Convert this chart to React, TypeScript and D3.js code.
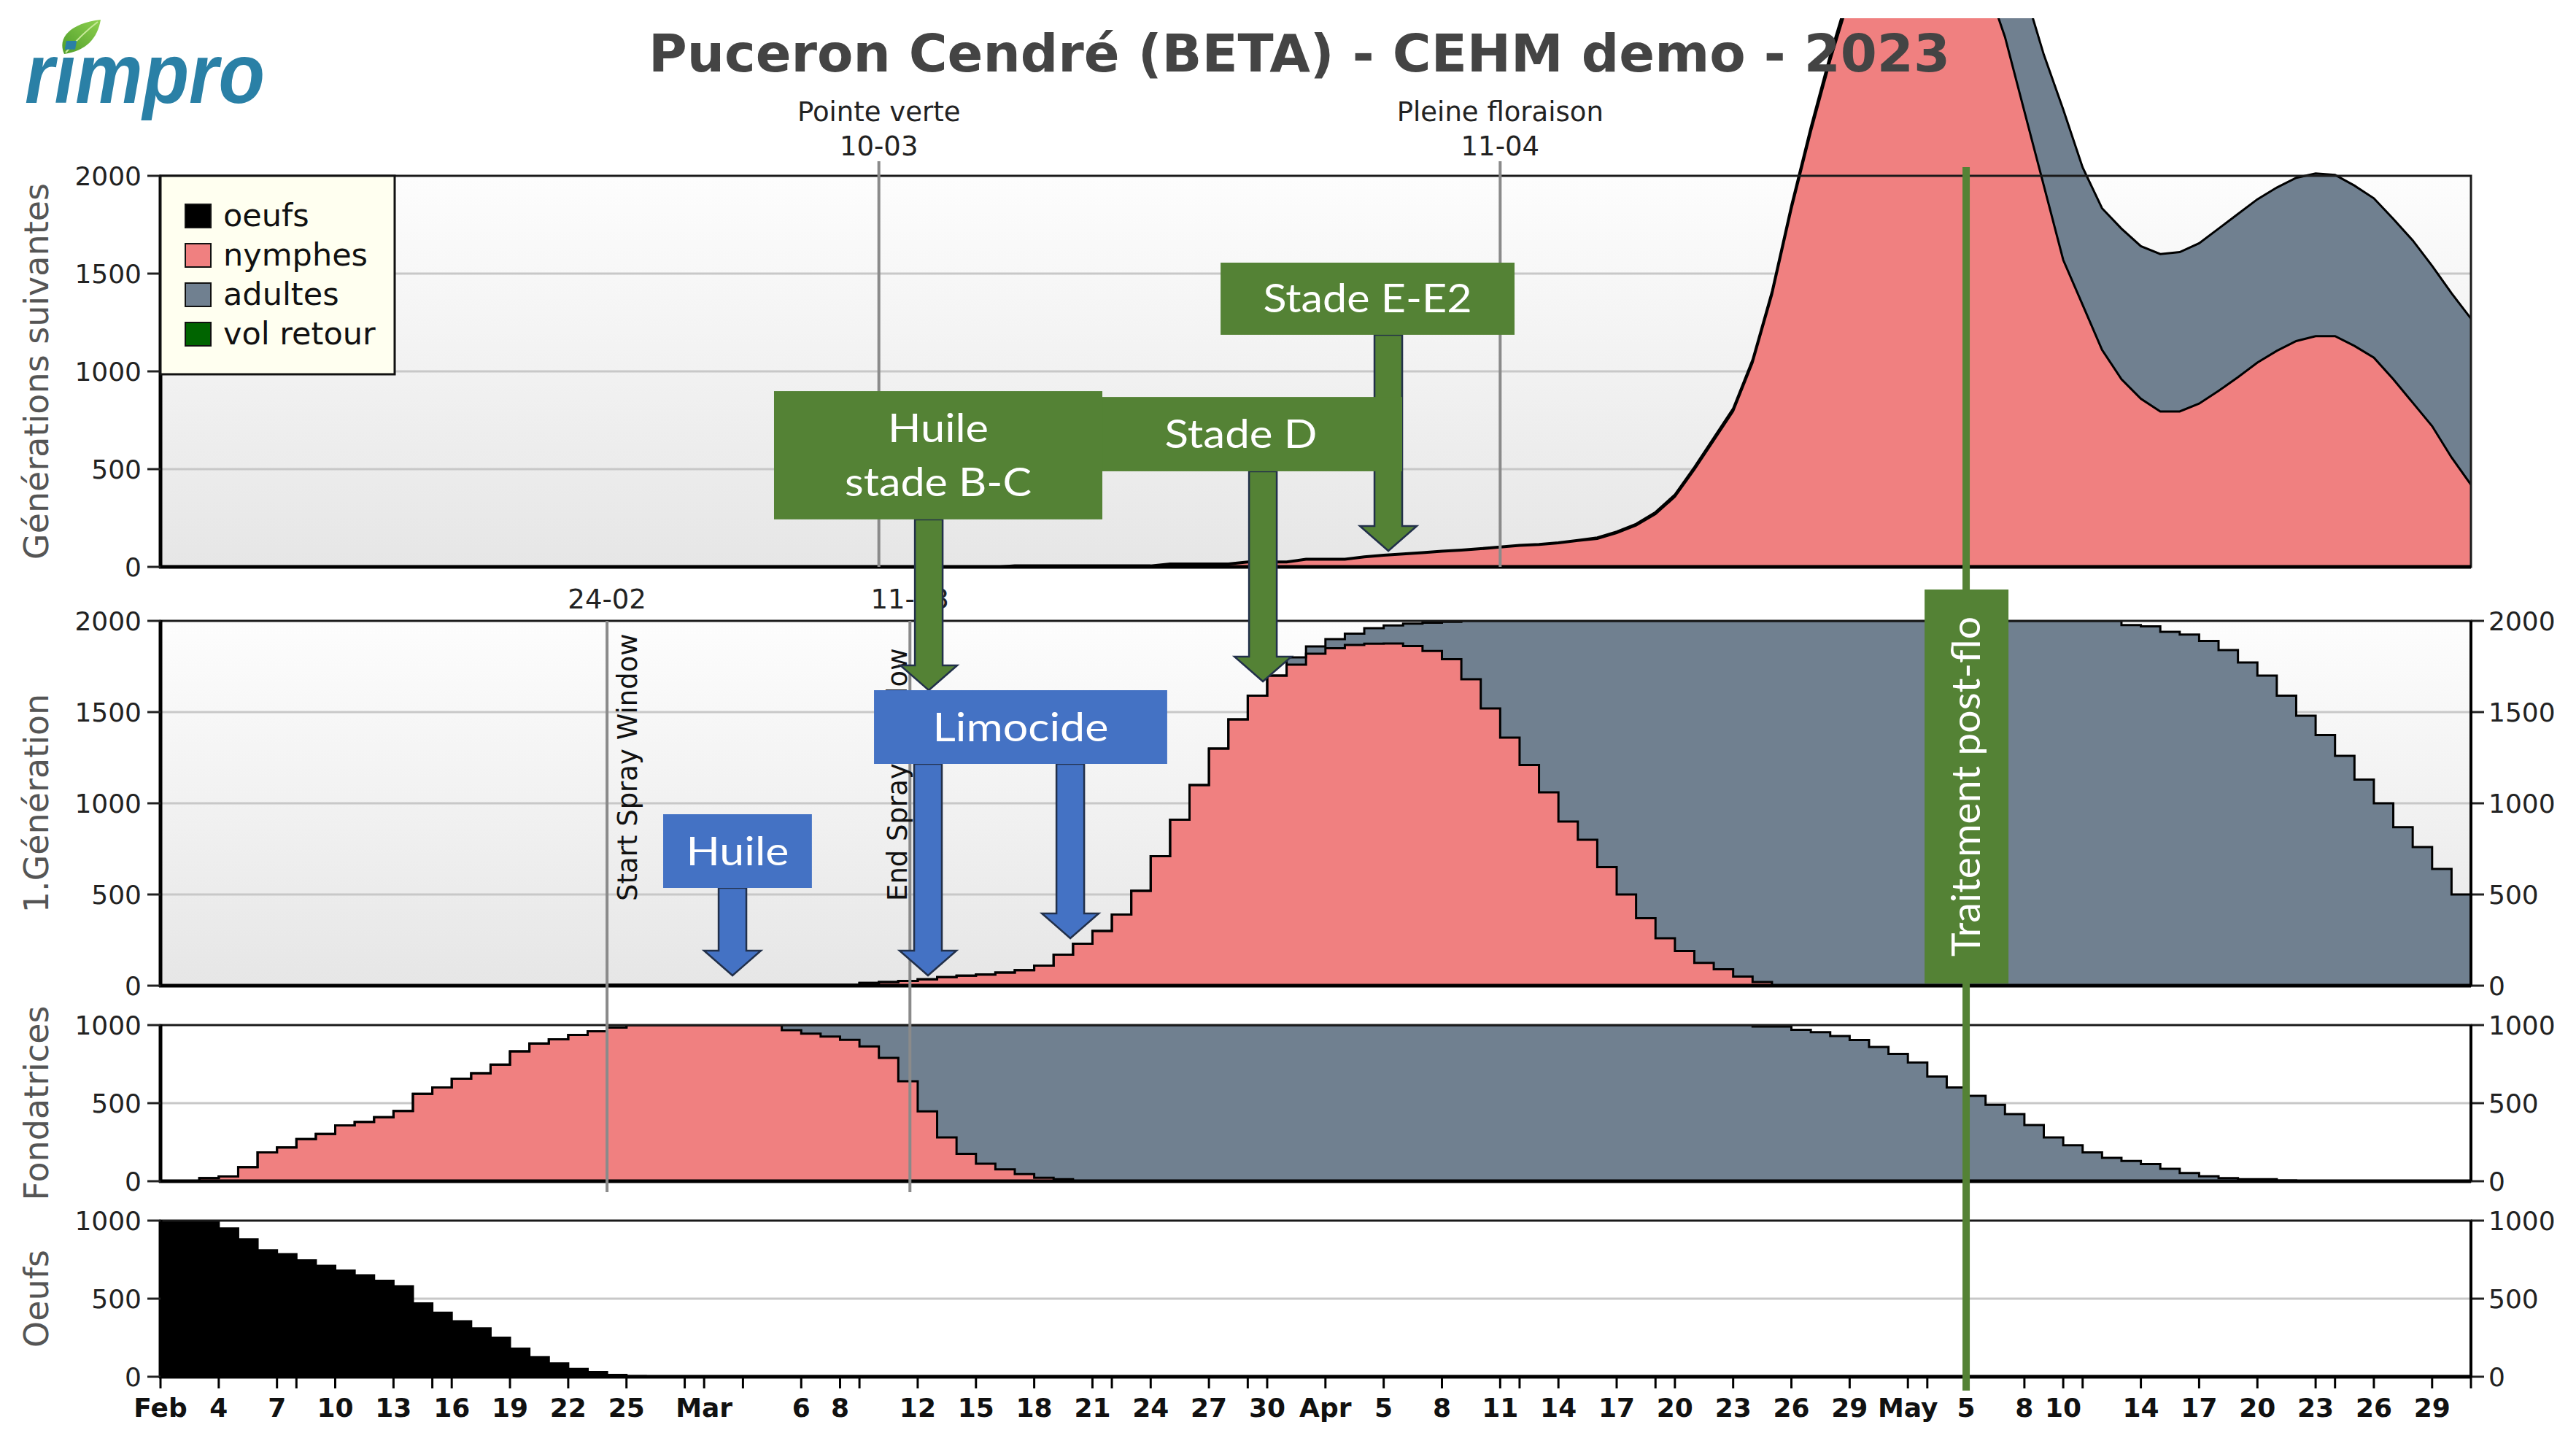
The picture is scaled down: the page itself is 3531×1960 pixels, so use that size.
import React from "react";
import * as d3 from "d3";

// ---------------- data ----------------
const domainStart = "2023-02-01";
const domainEnd = "2023-05-31";

// daily values; first value belongs to the given start date
const oeufsStart = "2023-02-01";
const oeufs = [1000, 1000, 995, 950, 880, 810, 785, 745, 710, 680, 650, 615, 580, 470, 410, 355, 310, 250, 180, 125, 85, 50, 30, 12, 4, 0];

const fondatricesNymphesStart = "2023-02-01";
const fondatricesNymphes = [0, 0, 20, 30, 90, 185, 216, 270, 303, 357, 380, 410, 450, 560, 600, 656, 692, 746, 832, 882, 909, 937, 960, 985,
  1000, 1000, 1000, 1000, 1000, 1000, 1000, 1000,
  967, 945, 926, 905, 863, 790, 640, 447, 280, 175, 112, 76, 45, 22, 13, 0];

const fondatricesAdultesStart = "2023-03-05";
const fondatricesAdultes = [33, 55, 74, 95, 137, 210, 360, 553, 720, 825, 888, 924, 955, 978, 987,
  1000, 1000, 1000, 1000, 1000, 1000, 1000, 1000, 1000, 1000, 1000, 1000, 1000, 1000, 1000, 1000, 1000, 1000,
  1000, 1000, 1000, 1000, 1000, 1000, 1000, 1000, 1000, 1000, 1000, 1000, 1000, 1000, 1000, 1000, 1000,
  991, 991, 970, 955, 930, 904, 860, 815, 760, 670, 600, 547, 490, 430, 360, 280, 230, 185, 150, 130, 110, 80, 52, 31, 20, 13, 13, 5, 0];

const gen1NymphesStart = "2023-02-24";
const gen1Nymphes = [5, 5, 5, 5, 5, 5, 5, 5, 5, 5, 5, 5, 5,
  15, 20, 26, 35, 47, 55, 61, 72, 85, 110, 170, 230, 300, 390, 520, 710, 910, 1100, 1300, 1460,
  1590, 1700, 1760, 1820, 1850, 1868, 1875, 1876, 1862, 1835, 1790, 1680, 1520, 1360, 1210, 1060, 900, 800, 650, 500,
  370, 260, 190, 125, 90, 50, 20, 0];

const gen1AdultesStart = "2023-03-31";
const gen1Adultes = [40, 40, 50, 62, 85, 99, 123, 155, 205, 320, 480, 640, 790, 940, 1100, 1200, 1350, 1500, 1630, 1740, 1810, 1875, 1910, 1950, 1980,
  2000, 2000, 2000, 2000, 2000, 2000, 2000, 2000, 2000, 2000, 2000, 2000, 2000, 2000, 2000, 2000, 2000, 2000,
  1977, 1970, 1940, 1925, 1890, 1840, 1772, 1700, 1590, 1480, 1374, 1260, 1130, 1000, 869, 760, 640, 500];

const suivantesNymphesStart = "2023-03-17";
const suivantesNymphes = [0, 0, 0, 0, 0, 0, 0, 0, 13, 13, 13, 13, 23, 23, 23, 37, 37, 37,
  49, 58, 64, 71, 78, 84, 91, 100, 108, 113, 121, 133, 144, 173, 212, 270, 359, 498, 647, 796,
  1045, 1392, 1830, 2225, 2590, 2915, 3205, 3390, 3470, 3450, 3350, 3200, 3000, 2710, 2330, 1950, 1570, 1340, 1110, 960,
  860, 795, 795, 835, 900, 970, 1045, 1105, 1155, 1180, 1180, 1130, 1070, 960, 840, 720, 560, 420];

const suivantesAdultesStart = "2023-03-17";
const suivantesAdultes = [7, 7, 7, 7, 7, 7, 7, 7,
  4, 4, 4, 4, 4, 4, 4, 4, 4, 4, 4, 4, 4, 4, 4, 4, 4, 4, 4, 4, 4, 4,
  6, 7, 8, 10, 11, 12, 13, 14, 15, 18, 20, 25, 30, 35, 45, 60, 80, 100, 150, 200,
  300, 390, 620, 670, 770, 703, 724, 770, 780, 805, 815, 820, 830, 835, 835, 835, 835, 832, 825, 820,
  815, 820, 830, 820, 840, 850];

// axis ticks
const yTicks2000 = [0, 500, 1000, 1500, 2000];
const yTicks1000 = [0, 500, 1000];
const xTickDates = ["2023-02-01", "2023-02-04", "2023-02-07", "2023-02-10", "2023-02-13", "2023-02-16", "2023-02-19", "2023-02-22", "2023-02-25",
  "2023-03-01", "2023-03-06", "2023-03-08", "2023-03-12", "2023-03-15", "2023-03-18", "2023-03-21", "2023-03-24", "2023-03-27", "2023-03-30",
  "2023-04-02", "2023-04-05", "2023-04-08", "2023-04-11", "2023-04-14", "2023-04-17", "2023-04-20", "2023-04-23", "2023-04-26", "2023-04-29",
  "2023-05-02", "2023-05-05", "2023-05-08", "2023-05-10", "2023-05-14", "2023-05-17", "2023-05-20", "2023-05-23", "2023-05-26", "2023-05-29"];
const xTickTexts = ["Feb", "4", "7", "10", "13", "16", "19", "22", "25",
  "Mar", "6", "8", "12", "15", "18", "21", "24", "27", "30",
  "Apr", "5", "8", "11", "14", "17", "20", "23", "26", "29",
  "May", "5", "8", "10", "14", "17", "20", "23", "26", "29"];
const xMinorTickDates = ["2023-02-08", "2023-02-15", "2023-02-28", "2023-03-03", "2023-03-09", "2023-03-22", "2023-03-29",
  "2023-04-12", "2023-04-19", "2023-05-03", "2023-05-11", "2023-05-24"];

// legend
const legendLabels = ["oeufs", "nymphes", "adultes", "vol retour"];
const legendColors = ["#000000", "#f08080", "#708090", "#006400"];

// phenology / spray window markers
const stageNames = ["Pointe verte", "Pleine floraison"];
const stageDates = ["2023-03-10", "2023-04-11"];
const stageDateTexts = ["10-03", "11-04"];
const sprayNames = ["Start Spray Window", "End Spray Window"];
const sprayDates = ["2023-02-24", "2023-03-11T14:24"];
const sprayDateTexts = ["24-02", "11-03"];

// ---------------- styles / layout ----------------
const W = 3531, H = 1960;
const PLOT_L = 220, PLOT_R = 3387;
const PINK = "#f08080", SLATE = "#708090";
const GREEN = "#548235", BLUE = "#4472c4", ARROW_EDGE = "#22304a";
const CHART_FONT = "'DejaVu Sans', Verdana, sans-serif";
const CALLOUT_FONT = "Lato, 'Open Sans', sans-serif";

const panels = [
  { top: 241, bottom: 777, max: 2000, ticks: yTicks2000, title: "Générations suivantes", rightAxis: false, shaded: true, clipTop: 25 },
  { top: 851, bottom: 1351, max: 2000, ticks: yTicks2000, title: "1.Génération", rightAxis: true, shaded: true, clipTop: 851 },
  { top: 1405, bottom: 1619, max: 1000, ticks: yTicks1000, title: "Fondatrices", rightAxis: true, shaded: false, clipTop: 1405 },
  { top: 1673, bottom: 1887, max: 1000, ticks: yTicks1000, title: "Oeufs", rightAxis: true, shaded: false, clipTop: 1673 },
];

const panelSeries = [
  { layers: [[suivantesNymphesStart, suivantesNymphes], [suivantesAdultesStart, suivantesAdultes]] as [string, number[]][], colors: [PINK, SLATE], linear: true },
  { layers: [[gen1NymphesStart, gen1Nymphes], [gen1AdultesStart, gen1Adultes]] as [string, number[]][], colors: [PINK, SLATE], linear: false },
  { layers: [[fondatricesNymphesStart, fondatricesNymphes], [fondatricesAdultesStart, fondatricesAdultes]] as [string, number[]][], colors: [PINK, SLATE], linear: false },
  { layers: [[oeufsStart, oeufs]] as [string, number[]][], colors: ["#000000"], linear: false },
];

// callouts drawn over the chart (x in days from domain start, y in panel units)
const calloutBoxes = [
  { lines: ["Stade E-E2"], widths: [286], color: GREEN, panel: 0, d0: 54.6, d1: 69.74, vTop: 1556, vBot: 1187 },
  { lines: ["Stade D"], widths: [209], color: GREEN, panel: 0, d0: 47.35, d1: 63.95, vTop: 869, vBot: 489 },
  { lines: ["Huile", "stade B-C"], widths: [138, 256], color: GREEN, panel: 0, d0: 31.6, d1: 48.51, vTop: 899, vBot: 243 },
  { lines: ["Limocide"], widths: [241], color: BLUE, panel: 1, d0: 36.75, d1: 51.85, vTop: 1620, vBot: 1216 },
  { lines: ["Huile"], widths: [141], color: BLUE, panel: 1, d0: 25.89, d1: 33.55, vTop: 940, vBot: 536 },
];
const calloutArrows = [
  { day: 63.24, color: GREEN, fromPanel: 0, fromV: 1187, toPanel: 0, toV: 82 },
  { day: 56.78, color: GREEN, fromPanel: 0, fromV: 489, toPanel: 1, toV: 1668 },
  { day: 39.57, color: GREEN, fromPanel: 0, fromV: 243, toPanel: 1, toV: 1620 },
  { day: 39.53, color: BLUE, fromPanel: 1, fromV: 1216, toPanel: 1, toV: 56 },
  { day: 46.86, color: BLUE, fromPanel: 1, fromV: 1216, toPanel: 1, toV: 260 },
  { day: 29.46, color: BLUE, fromPanel: 1, fromV: 536, toPanel: 1, toV: 56 },
];
const treatment = { text: "Traitement post-flo", date: "2023-05-05", d0: 90.86, d1: 95.18, vTop: 2172, vBot: 12, textLen: 466 };

const toDate = (s: string) => new Date(s.length > 10 ? s + ":00Z" : s + "T00:00:00Z");

function arrowPath(cx: number, y0: number, tip: number, sw = 38, hw = 78, hh = 34) {
  const s = sw / 2, h = hw / 2, yb = tip - hh;
  return `M${cx - s},${y0}L${cx + s},${y0}L${cx + s},${yb}L${cx + h},${yb}L${cx},${tip}L${cx - h},${yb}L${cx - s},${yb}Z`;
}

export default function App() {
  const t0 = toDate(domainStart), t1 = toDate(domainEnd);
  const x = d3.scaleUtc().domain([t0, t1]).range([PLOT_L, PLOT_R]);
  const nDays = d3.utcDay.count(t0, t1);
  const dayDate = (i: number) => d3.utcDay.offset(t0, i);
  const fracX = (d: number) => x(new Date(+t0 + d * 864e5));
  const ys = panels.map((p) => d3.scaleLinear().domain([0, p.max]).range([p.bottom, p.top]));

  const valueAt = (start: string, values: number[], i: number) => {
    const k = i - d3.utcDay.count(t0, toDate(start));
    return k >= 0 && k < values.length ? values[k] : 0;
  };

  const rendered = panelSeries.map((ser, pi) => {
    const keys = ser.layers.map((_, j) => "k" + j);
    const rows: any[] = [];
    const last = ser.linear ? nDays : nDays - 1;
    for (let i = 0; i <= last; i++) {
      const r: any = { date: dayDate(i) };
      ser.layers.forEach(([st, vals], j) => (r["k" + j] = valueAt(st, vals, i)));
      rows.push(r);
    }
    if (!ser.linear) rows.push({ ...rows[rows.length - 1], date: dayDate(nDays) });
    const stacked = d3.stack<any>().keys(keys)(rows);
    const curve = ser.linear ? d3.curveLinear : d3.curveStepAfter;
    const y = ys[pi];
    const area = d3.area<any>().x((d) => x(d.data.date)).y0((d) => y(d[0])).y1((d) => y(d[1])).curve(curve);
    const line = d3.line<any>().x((d) => x(d.data.date)).y((d) => y(d[1])).curve(curve);
    return { stacked, area, line, colors: ser.colors };
  });

  const tickFont = { fontFamily: CHART_FONT, fontSize: 36, fill: "#222" };

  return (
    <svg width={W} height={H} viewBox={`0 0 ${W} ${H}`} style={{ position: "absolute", left: 0, top: 0, display: "block", background: "#fff" }}>
      <defs>
        <linearGradient id="panelShade" x1="0" y1="0" x2="0" y2="1">
          <stop offset="0" stopColor="#fdfdfd" />
          <stop offset="1" stopColor="#e6e6e6" />
        </linearGradient>
        <linearGradient id="leafGrad" x1="0" y1="1" x2="1" y2="0">
          <stop offset="0" stopColor="#4f9d2a" />
          <stop offset="1" stopColor="#8fd14f" />
        </linearGradient>
        {panels.map((p, i) => (
          <clipPath id={`clip${i}`} key={i}>
            <rect x={PLOT_L} y={p.clipTop} width={PLOT_R - PLOT_L} height={p.bottom - p.clipTop} />
          </clipPath>
        ))}
      </defs>

      {/* panel backgrounds and grid */}
      {panels.map((p, i) => (
        <g key={"bg" + i}>
          <rect x={PLOT_L} y={p.top} width={PLOT_R - PLOT_L} height={p.bottom - p.top} fill={p.shaded ? "url(#panelShade)" : "#fff"} />
          {p.ticks.filter((t) => t > 0 && t < p.max).map((t) => (
            <line key={t} x1={PLOT_L} x2={PLOT_R} y1={ys[i](t)} y2={ys[i](t)} stroke="#c8c8c8" strokeWidth={3} />
          ))}
        </g>
      ))}

      {/* stacked areas */}
      {rendered.map((r, pi) => (
        <g key={"ser" + pi} clipPath={`url(#clip${pi})`}>
          {r.stacked.map((layer, j) => (
            <path key={"a" + j} d={r.area(layer) || ""} fill={r.colors[j]} />
          ))}
          {r.stacked.map((layer, j) => (
            <path key={"l" + j} d={r.line(layer) || ""} fill="none" stroke="#000" strokeWidth={3} strokeLinejoin="miter" />
          ))}
        </g>
      ))}

      {/* frames, axes */}
      {panels.map((p, i) => (
        <g key={"ax" + i}>
          <rect x={PLOT_L} y={p.top} width={PLOT_R - PLOT_L} height={p.bottom - p.top} fill="none" stroke="#1a1a1a" strokeWidth={3} />
          <line x1={PLOT_L} x2={PLOT_L} y1={p.top - 1} y2={p.bottom + 2} stroke="#000" strokeWidth={5} />
          <line x1={PLOT_L - 2} x2={PLOT_R} y1={p.bottom} y2={p.bottom} stroke="#000" strokeWidth={5} />
          {p.ticks.map((t) => (
            <g key={t}>
              <line x1={PLOT_L - 18} x2={PLOT_L} y1={ys[i](t)} y2={ys[i](t)} stroke="#222" strokeWidth={3} />
              <text x={PLOT_L - 26} y={ys[i](t)} dy="0.36em" textAnchor="end" {...tickFont}>{t}</text>
              {p.rightAxis && (
                <>
                  <line x1={PLOT_R} x2={PLOT_R + 18} y1={ys[i](t)} y2={ys[i](t)} stroke="#222" strokeWidth={3} />
                  <text x={PLOT_R + 24} y={ys[i](t)} dy="0.36em" textAnchor="start" {...tickFont}>{t}</text>
                </>
              )}
            </g>
          ))}
          {p.rightAxis && <line x1={PLOT_R} x2={PLOT_R} y1={p.top} y2={p.bottom} stroke="#000" strokeWidth={4} />}
          <text transform={`translate(66,${(p.top + p.bottom) / 2}) rotate(-90)`} textAnchor="middle" fontFamily={CHART_FONT} fontSize={46} fill="#555">
            {p.title}
          </text>
        </g>
      ))}

      {/* x axis */}
      <g>
        {xMinorTickDates.map((d) => (
          <line key={"m" + d} x1={x(toDate(d))} x2={x(toDate(d))} y1={panels[3].bottom} y2={panels[3].bottom + 16} stroke="#000" strokeWidth={3} />
        ))}
        {xTickDates.map((d, i) => (
          <g key={"t" + d}>
            <line x1={x(toDate(d))} x2={x(toDate(d))} y1={panels[3].bottom} y2={panels[3].bottom + 16} stroke="#000" strokeWidth={3} />
            <text x={x(toDate(d))} y={1942} textAnchor="middle" fontFamily={CHART_FONT} fontWeight="bold" fontSize={36} fill="#111">
              {xTickTexts[i]}
            </text>
          </g>
        ))}
        <line x1={PLOT_R} x2={PLOT_R} y1={panels[3].bottom} y2={panels[3].bottom + 16} stroke="#000" strokeWidth={3} />
      </g>

      {/* stage markers */}
      {stageDates.map((d, i) => {
        const xx = x(toDate(d));
        return (
          <g key={"st" + i}>
            <line x1={xx} x2={xx} y1={221} y2={panels[0].bottom} stroke="#8a8a8a" strokeWidth={4} />
            <text x={xx} y={166} textAnchor="middle" fontFamily={CHART_FONT} fontSize={37} fill="#222">{stageNames[i]}</text>
            <text x={xx} y={213} textAnchor="middle" fontFamily={CHART_FONT} fontSize={37} fill="#222">{stageDateTexts[i]}</text>
          </g>
        );
      })}
      {sprayDates.map((d, i) => {
        const xx = x(toDate(d));
        const bx = i === 0 ? xx + 41 : xx - 4;
        return (
          <g key={"sp" + i}>
            <line x1={xx} x2={xx} y1={panels[1].top} y2={1634} stroke="#8a8a8a" strokeWidth={4} />
            <text x={xx} y={834} textAnchor="middle" fontFamily={CHART_FONT} fontSize={37} fill="#222">{sprayDateTexts[i]}</text>
            <text transform={`translate(${bx},1235) rotate(-90)`} textAnchor="start" fontFamily={CHART_FONT} fontSize={37} fill="#111">
              {sprayNames[i]}
            </text>
          </g>
        );
      })}

      {/* legend */}
      <g>
        <rect x={PLOT_L} y={panels[0].top} width={321} height={272} fill="#fffff0" stroke="#111" strokeWidth={3} />
        {legendLabels.map((lab, i) => {
          const cy = 296 + i * 54;
          return (
            <g key={lab}>
              <rect x={254} y={cy - 16} width={35} height={32} fill={legendColors[i]} stroke="#111" strokeWidth={2} />
              <text x={306} y={cy + 14} fontFamily={CHART_FONT} fontSize={43} fill="#111">{lab}</text>
            </g>
          );
        })}
      </g>

      {/* title and logo */}
      <text x={1781} y={98} textAnchor="middle" fontFamily={CHART_FONT} fontWeight="bold" fontSize={72} fill="#444">
        Puceron Cendré (BETA) - CEHM demo - 2023
      </text>
      <g>
        <path d="M88,74 C78,52 96,32 138,27 C134,52 118,70 88,74 Z" fill="url(#leafGrad)" />
        <path d="M90,72 C104,56 118,42 134,30" fill="none" stroke="#c8ea9a" strokeWidth={2} />
        <text x={34} y={141} fontFamily="'Liberation Sans', Arial, sans-serif" fontStyle="italic" fontWeight="bold" fontSize={116} fill="#2a80a6" textLength={329} lengthAdjust="spacingAndGlyphs">
          rimpro
        </text>
      </g>

      {/* callouts */}
      {calloutArrows.map((a, i) => (
        <path key={"ar" + i} d={arrowPath(fracX(a.day), ys[a.fromPanel](a.fromV), ys[a.toPanel](a.toV))} fill={a.color} stroke={ARROW_EDGE} strokeWidth={2.5} />
      ))}
      {calloutBoxes.map((b, i) => {
        const x0 = fracX(b.d0), x1 = fracX(b.d1);
        const y0 = ys[b.panel](b.vTop), y1 = ys[b.panel](b.vBot);
        const cx = (x0 + x1) / 2, cy = (y0 + y1) / 2;
        const n = b.lines.length;
        return (
          <g key={"bx" + i}>
            <rect x={x0} y={y0} width={x1 - x0} height={y1 - y0} fill={b.color} />
            {b.lines.map((ln, k) => (
              <text key={k} x={cx} y={cy + (k - (n - 1) / 2) * 74 + 19} textAnchor="middle" fontFamily={CALLOUT_FONT} fontSize={54} fill="#fff"
                textLength={b.widths[k]} lengthAdjust="spacingAndGlyphs">
                {ln}
              </text>
            ))}
          </g>
        );
      })}
      {(() => {
        const lx = x(toDate(treatment.date));
        const x0 = fracX(treatment.d0), x1 = fracX(treatment.d1);
        const y0 = ys[1](treatment.vTop), y1 = ys[1](treatment.vBot);
        return (
          <g>
            <line x1={lx} x2={lx} y1={229} y2={1906} stroke={GREEN} strokeWidth={10} />
            <rect x={x0} y={y0} width={x1 - x0} height={y1 - y0} fill={GREEN} />
            <text transform={`translate(${(x0 + x1) / 2 + 18},${(y0 + y1) / 2}) rotate(-90)`} textAnchor="middle" fontFamily={CALLOUT_FONT} fontSize={54} fill="#fff"
              textLength={treatment.textLen} lengthAdjust="spacingAndGlyphs">
              {treatment.text}
            </text>
          </g>
        );
      })()}
    </svg>
  );
}
